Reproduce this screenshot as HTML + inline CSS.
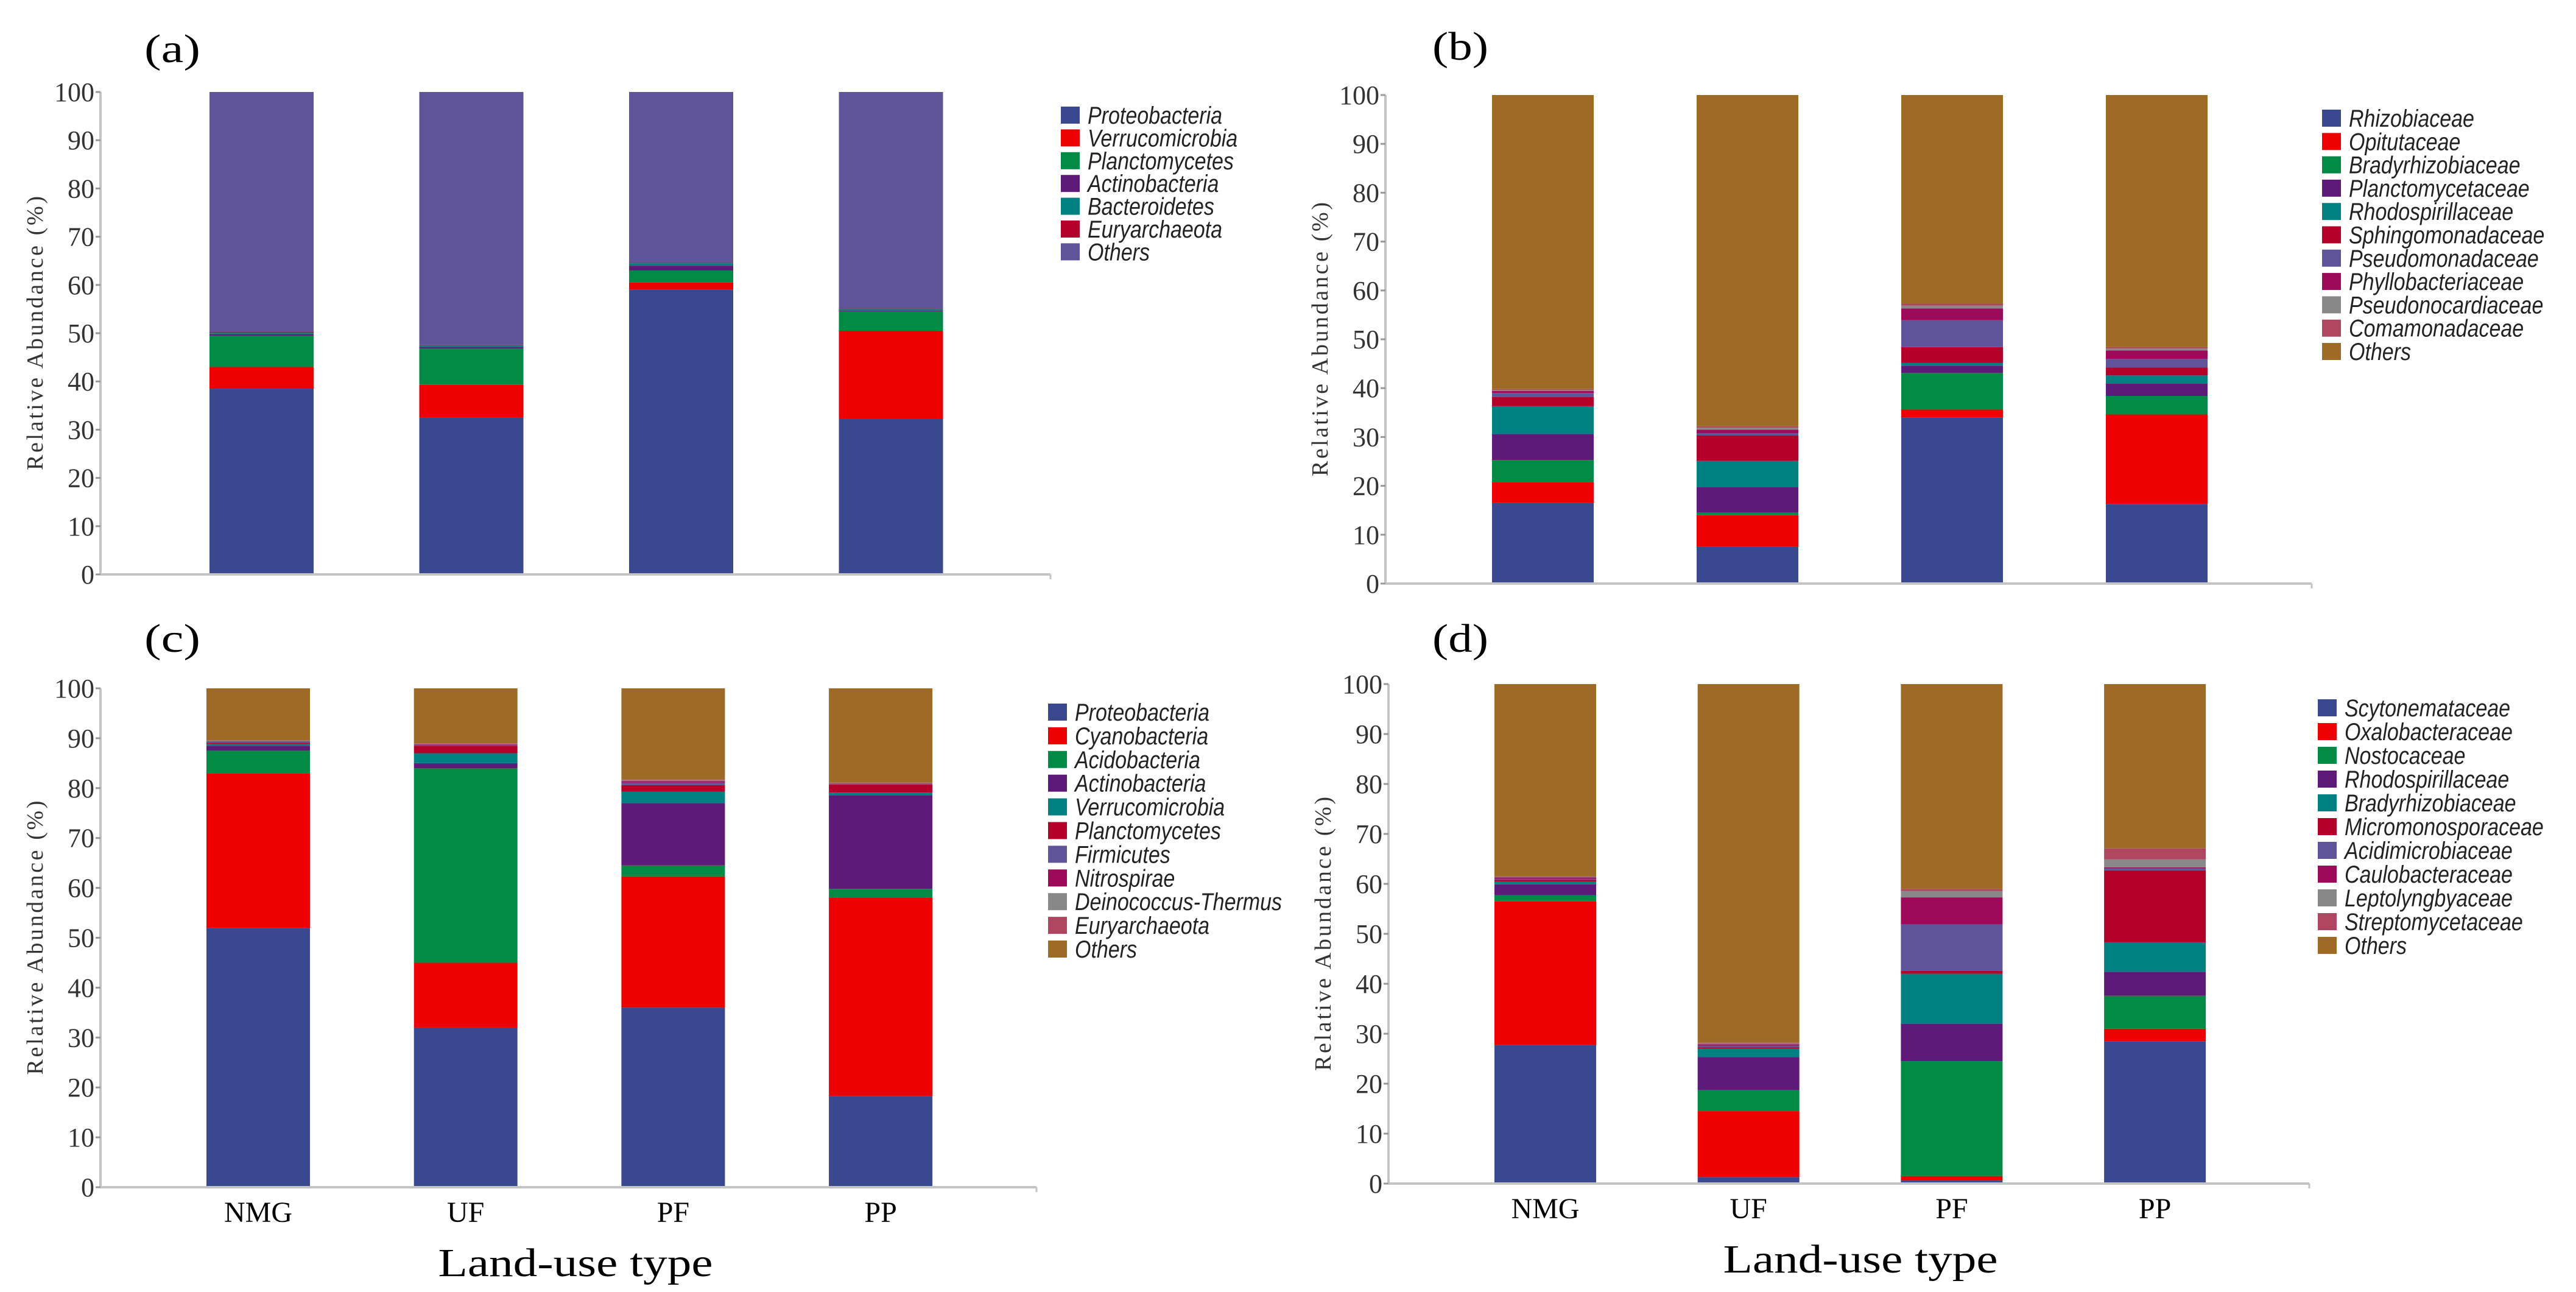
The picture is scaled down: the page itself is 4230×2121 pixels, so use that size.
<!DOCTYPE html>
<html><head><meta charset="utf-8">
<style>html,body{margin:0;padding:0;background:#fff;}svg{display:block;}</style>
</head><body>
<svg id="fig" width="4230" height="2121" viewBox="0 0 4230 2121" xmlns="http://www.w3.org/2000/svg"></svg>
<script>
const categories = ["NMG","UF","PF","PP"];
const tickValues = [0,10,20,30,40,50,60,70,80,90,100];

const seriesA = ["Proteobacteria","Verrucomicrobia","Planctomycetes","Actinobacteria","Bacteroidetes","Euryarchaeota","Others"];
const valuesA = [
  [38.5,32.5,59,32.2],
  [4.5,6.8,1.5,18.3],
  [6.5,7.5,2.5,4],
  [0.3,0.3,1,0.2],
  [0.3,0.3,0.5,0.3],
  [0.2,0.1,0.1,0.1],
  [49.7,52.5,35.4,44.9]
];
const seriesB = ["Rhizobiaceae","Opitutaceae","Bradyrhizobiaceae","Planctomycetaceae","Rhodospirillaceae","Sphingomonadaceae","Pseudomonadaceae","Phyllobacteriaceae","Pseudonocardiaceae","Comamonadaceae","Others"];
const valuesB = [
  [16.5,7.5,34,16.3],
  [4.3,6.5,1.6,18.3],
  [4.5,0.5,7.5,3.8],
  [5.3,5.2,1.5,2.5],
  [5.7,5.4,0.6,1.7],
  [1.9,5.2,3.2,1.6],
  [0.8,0.5,5.5,1.8],
  [0.4,0.7,2.4,1.7],
  [0.2,0.4,0.6,0.4],
  [0.2,0.3,0.4,0.3],
  [60.2,67.8,42.7,51.6]
];
const seriesC = ["Proteobacteria","Cyanobacteria","Acidobacteria","Actinobacteria","Verrucomicrobia","Planctomycetes","Firmicutes","Nitrospirae","Deinococcus-Thermus","Euryarchaeota","Others"];
const valuesC = [
  [52,32,36,18.3],
  [31,13,26.3,39.7],
  [4.5,39,2.2,1.8],
  [1,1,12.5,18.8],
  [0.3,2,2.3,0.5],
  [0.3,1.5,1.3,1.6],
  [0.2,0.2,0.5,0.1],
  [0.1,0.1,0.3,0.1],
  [0.1,0.1,0.2,0.1],
  [0.1,0.1,0.1,0.1],
  [10.4,11,18.3,18.9]
];
const seriesD = ["Scytonemataceae","Oxalobacteraceae","Nostocaceae","Rhodospirillaceae","Bradyrhizobiaceae","Micromonosporaceae","Acidimicrobiaceae","Caulobacteraceae","Leptolyngbyaceae","Streptomycetaceae","Others"];
const valuesD = [
  [27.7,1.3,0.6,28.5],
  [28.8,13.2,0.9,2.5],
  [1.2,4.2,23,6.6],
  [2.2,6.6,7.5,4.8],
  [0.5,1.7,10,5.9],
  [0.4,0.3,0.6,14.4],
  [0.2,0.3,9.3,0.4],
  [0.3,0.3,5.4,0.2],
  [0.1,0.2,1.3,1.6],
  [0.1,0.1,0.4,2.2],
  [38.5,71.8,41,32.9]
];

const colA = ["#3a4890","#ee0000","#008a43","#5e1a78","#008080","#b5002a","#5f5499"];
const colFull = ["#3a4890","#ee0000","#008a43","#5e1a78","#008080","#b5002a","#5f5499","#9e0a5a","#888888","#b04560","#9d6b25"];

const NS="http://www.w3.org/2000/svg";
const svg=document.getElementById("fig");
function mk(tag,attrs,parent){const e=document.createElementNS(NS,tag);for(const k in attrs)e.setAttribute(k,attrs[k]);(parent||svg).appendChild(e);return e;}

function panel(cfg){
  const g=mk("g",{});
  
  
  const yScale=v=>cfg.y0-(cfg.y0-cfg.y100)*v/100;
  const xCenter=i=>cfg.bar0+cfg.step*i+cfg.bw/2;
  const lt=mk("text",{x:cfg.lx,y:cfg.ly,"font-family":"Liberation Serif, serif","font-size":66,fill:"#000",textLength:92,lengthAdjust:"spacingAndGlyphs"},g);
  lt.textContent="("+cfg.id+")";
  
  
  for(let i=0;i<categories.length;i++){
    let acc=0;
    for(let s=0;s<cfg.vals.length;s++){
      const v=cfg.vals[s][i];
      const top=yScale(acc+v),bot=yScale(acc);
      const r=mk("rect",{x:cfg.bar0+cfg.step*i,y:top,width:cfg.bw,height:Math.max(0,bot-top),fill:cfg.cols[s]},g);
      
      
      acc+=v;
    }
  }
  const ya=mk("line",{x1:cfg.ax0,x2:cfg.ax0,y1:cfg.y100,y2:cfg.y0,stroke:"#c4c4c4","stroke-width":4},g);
  
  
  const xa=mk("line",{x1:cfg.ax0,x2:cfg.ax1,y1:cfg.y0,y2:cfg.y0,stroke:"#c4c4c4","stroke-width":4},g);
  
  
  mk("line",{x1:cfg.ax1,x2:cfg.ax1,y1:cfg.y0,y2:cfg.y0+8,stroke:"#c4c4c4","stroke-width":3},g);
  for(const t of tickValues){
    const y=yScale(t);
    mk("line",{x1:cfg.ax0-8,x2:cfg.ax0,y1:y,y2:y,stroke:"#999","stroke-width":3},g);
    const tx=mk("text",{x:cfg.ax0-10,y:y+15,"text-anchor":"end","font-family":"Liberation Serif, serif","font-size":44,fill:"#333"},g);
    tx.textContent=t;
    
    
  }
  const ymid=(cfg.y0+cfg.y100)/2;
  const yt=mk("text",{x:0,y:0,transform:`translate(${cfg.ax0-95},${ymid}) rotate(-90)`,"text-anchor":"middle","font-family":"Liberation Serif, serif","font-size":38,fill:"#333",textLength:450,lengthAdjust:"spacing"},g);
  yt.textContent="Relative Abundance (%)";
  
  
  if(cfg.showX){
    for(let i=0;i<categories.length;i++){
      const c=mk("text",{x:xCenter(i),y:cfg.y0+57,"text-anchor":"middle","font-family":"Liberation Serif, serif","font-size":48,fill:"#000"},g);
      c.textContent=categories[i];
      
      
    }
    const xt=mk("text",{x:cfg.titleX,y:cfg.y0+146,"text-anchor":"middle","font-family":"Liberation Serif, serif","font-size":66,fill:"#000",textLength:451,lengthAdjust:"spacingAndGlyphs"},g);
    xt.textContent="Land-use type";
    
    
  }
  for(let s=0;s<cfg.series.length;s++){
    const cy=cfg.legY+cfg.legStep*s;
    const sw=mk("rect",{x:cfg.legX-11,y:cy-14,width:31,height:28,fill:cfg.cols[s]},g);
    
    
    const lt2=mk("text",{x:0,y:0,transform:`translate(${cfg.legX+33},${cy+14}) scale(0.85,1)`,"font-family":"Liberation Sans, sans-serif","font-style":"italic","font-size":40,fill:"#222"},g);
    lt2.textContent=cfg.series[s];
    
    
  }
}

panel({id:"a",series:seriesA,vals:valuesA,cols:colA,y100:151,y0:943,ax0:165,ax1:1725,bar0:344,step:344.5,bw:171,lx:237,ly:102,legX:1753,legY:189,legStep:37.4,showX:false});
panel({id:"b",series:seriesB,vals:valuesB,cols:colFull,y100:156,y0:958,ax0:2275,ax1:3796,bar0:2450,step:336,bw:167,lx:2352,ly:98,legX:3824,legY:194,legStep:38.3,showX:false});
panel({id:"c",series:seriesC,vals:valuesC,cols:colFull,y100:1130,y0:1949,ax0:165,ax1:1702,bar0:339,step:340.7,bw:170,lx:237,ly:1070,legX:1732,legY:1169,legStep:38.9,showX:true,titleX:945});
panel({id:"d",series:seriesD,vals:valuesD,cols:colFull,y100:1123,y0:1943,ax0:2280,ax1:3792,bar0:2454,step:333.7,bw:167,lx:2352,ly:1070,legX:3817,legY:1162,legStep:39,showX:true,titleX:3055});
</script>
</body></html>
